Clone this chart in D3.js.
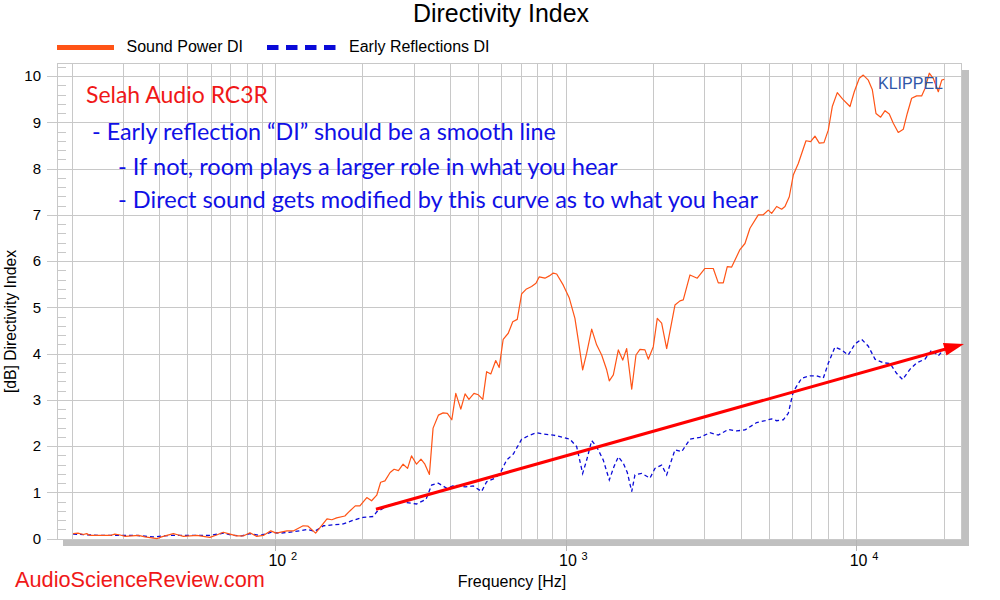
<!DOCTYPE html>
<html><head><meta charset="utf-8">
<script src="https://cdn.jsdelivr.net/npm/d3@7/dist/d3.min.js"></script>
<style>body{margin:0;background:#fff}svg{display:block}</style>
</head><body>
<svg id="chart" width="1000" height="600"></svg>
<script>
// ---------------- DATA ----------------
const spFreq = [20.2,21.0,21.9,22.5,23.1,27.1,28.1,29.3,30.5,33.9,35.7,39.2,40.7,44.7,45.9,48.4,53.8,59.7,63.0,66.4,70.0,73.8,77.8,82.0,86.5,91.2,96.7,101,110,116,125,130,138,151,157,163,174,181,189,196,207,215,224,231,239,249,257,266,276,286,295,307,318,328,340,350,365,379,392,406,419,436,451,465,484,501,519,535,553,575,591,610,635,658,682,706,731,764,791,812,849,879,907,932,982,1030,1077,1106,1145,1182,1230,1279,1331,1385,1414,1460,1519,1573,1623,1689,1747,1803,1876,1926,2004,2068,2141,2228,2379,2476,2541,2680,2839,3018,3223,3354,3489,3601,3729,3982,4143,4310,4604,4790,4983,5119,5326,5541,5689,5886,6076,6322,6719,6973,7215,7466,7749,8017,8276,8610,8985,9521,9851,10250,10580,11010,11360,11700,12140,12570,13000,13420,13960,14530,14990,15520,16150,16800,17250,17850,18420,19170,19700,20100];
const spDI = [0.11,0.12,0.09,0.11,0.07,0.07,0.10,0.08,0.05,0.07,0.04,0.00,0.04,0.11,0.09,0.05,0.07,0.03,0.08,0.14,0.10,0.06,0.06,0.13,0.05,0.07,0.17,0.12,0.17,0.17,0.28,0.27,0.12,0.43,0.41,0.45,0.49,0.60,0.71,0.71,0.89,0.82,0.94,1.22,1.25,1.43,1.50,1.47,1.61,1.52,1.79,1.61,1.72,1.61,1.39,2.39,2.67,2.72,2.71,2.57,3.14,2.80,3.13,3.01,3.14,3.11,3.01,3.61,3.56,3.85,3.70,4.31,4.44,4.69,4.74,5.29,5.39,5.45,5.52,5.66,5.63,5.68,5.74,5.72,5.48,5.20,4.76,4.29,3.65,4.01,4.53,4.19,3.97,3.65,3.41,3.54,4.08,3.86,4.11,3.23,3.97,4.09,4.08,3.88,4.15,4.76,4.66,4.11,5.05,5.14,5.16,5.70,5.63,5.84,5.84,5.53,5.53,5.88,5.87,6.25,6.38,6.71,7.00,7.00,7.10,7.03,7.18,7.12,7.18,7.39,7.86,8.11,8.60,8.58,8.70,8.55,8.56,8.83,9.34,9.64,9.50,9.34,9.66,9.95,10.02,9.91,9.71,9.19,9.11,9.25,9.18,8.98,8.78,8.85,9.19,9.52,9.57,9.57,9.73,10.06,9.95,9.66,9.91,9.93];

const erFreq = [20.2,25.0,29.3,33.4,38.1,43.5,49.7,59.7,66.4,71.9,76.8,82.0,88.8,97.4,104,116,129,137,147,159,172,186,201,218,224,249,276,307,331,346,365,390,416,451,481,514,535,572,595,627,661,706,754,795,838,907,982,1035,1092,1145,1182,1230,1279,1348,1414,1468,1519,1580,1631,1689,1733,1828,1952,2030,2141,2228,2379,2509,2680,2901,3140,3354,3630,3880,4143,4546,4856,5119,5326,5612,5840,6076,6494,6934,7313,7707,8017,8453,8915,9393,9906,10440,11010,11610,12400,13070,13790,14450,15310,16150,17250,18190,19170,19940];
const erDI = [0.10,0.07,0.07,0.07,0.04,0.07,0.07,0.07,0.12,0.07,0.06,0.11,0.07,0.14,0.12,0.15,0.20,0.16,0.28,0.30,0.32,0.40,0.46,0.48,0.58,0.74,0.79,0.75,0.85,1.16,1.20,1.09,1.16,1.12,1.14,1.02,1.23,1.31,1.41,1.70,1.83,2.15,2.24,2.29,2.26,2.24,2.19,2.15,1.99,1.41,1.70,2.12,1.99,1.70,1.27,1.56,1.77,1.63,1.43,1.02,1.38,1.41,1.31,1.52,1.59,1.38,1.92,1.88,2.15,2.19,2.29,2.24,2.36,2.33,2.35,2.51,2.55,2.59,2.55,2.57,2.71,3.18,3.47,3.52,3.52,3.47,3.79,4.14,4.08,3.97,4.21,4.31,4.16,3.88,3.80,3.79,3.57,3.44,3.66,3.80,3.88,4.08,3.95,4.08];

const yTicks = [0,1,2,3,4,5,6,7,8,9,10];
const xDecades = [100, 1000, 10000];
const xDecadeExp = ["2", "3", "4"];
const xGrid = [20,30,40,50,60,70,80,90,100,200,300,400,500,600,700,800,900,1000,2000,3000,4000,5000,6000,7000,8000,9000,10000,20000];
const arrowFreq = [222.6, 23490];
const arrowDI = [0.635, 4.21];

const titleText = "Directivity Index";
const seriesNames = ["Sound Power DI", "Early Reflections DI"];
const xLabel = "Frequency [Hz]";
const yLabel = "[dB] Directivity Index";
const headline = "Selah Audio RC3R";
const notes = ["- Early reflection \u201cDI\u201d should be a smooth line",
               "- If not, room plays a larger role in what you hear",
               "- Direct sound gets modified by this curve as to what you hear"];
const brand = "KLIPPEL";
const watermark = "AudioScienceReview.com";

// ---------------- LAYOUT ----------------
const L = 57, R = 962, T = 63, B = 539;
const ORANGE = "#ff5416", BLUE = "#0a0ad8", GRID = "#c8c8c8", SHADOW = "#c0c0c0";
const sans = "'Liberation Sans', Arial, sans-serif";
const human = "Lato, 'Open Sans', sans-serif";

const svg = d3.select("#chart");
const x = d3.scaleLog().domain([17.78, 23130]).range([L, R]);
const y = d3.scaleLinear().domain([0, 10]).range([538.7, 76]);

function fit(sel, w) {
  const n = sel.node();
  const fs = parseFloat(sel.attr("font-size"));
  const cur = n.getComputedTextLength();
  if (cur > 0) sel.attr("font-size", (fs * w / cur).toFixed(2));
  return sel;
}

// shadow + plot background
svg.append("rect").attr("x", L + 6).attr("y", T + 7).attr("width", R - L + 1).attr("height", B - T)
  .attr("fill", SHADOW);
svg.append("rect").attr("x", L).attr("y", T).attr("width", R - L).attr("height", B - T)
  .attr("fill", "#fff");

// decade ticks extending below
svg.append("g").selectAll("line").data(xDecades).join("line")
  .attr("x1", d => Math.round(x(d)) + 0.5).attr("x2", d => Math.round(x(d)) + 0.5)
  .attr("y1", B).attr("y2", 551).attr("stroke", "#b4b4b4");

// grid
const grid = svg.append("g").attr("stroke", GRID).attr("stroke-width", 1).attr("shape-rendering", "crispEdges");
grid.selectAll(".vx").data(xGrid).join("line")
  .attr("x1", d => Math.round(x(d)) + 0.5).attr("x2", d => Math.round(x(d)) + 0.5)
  .attr("y1", T).attr("y2", B);
grid.selectAll(".hy").data(yTicks).join("line")
  .attr("x1", L).attr("x2", R).attr("y1", d => Math.round(y(d)) + 0.5).attr("y2", d => Math.round(y(d)) + 0.5);
// minor y ticks (inside)
const minor = d3.range(0, 10.3, 0.2).filter(v => Math.abs(v - Math.round(v)) > 0.01);
grid.selectAll(".mn").data(minor).join("line")
  .attr("x1", L).attr("x2", L + 9).attr("y1", d => Math.round(y(d)) + 0.5).attr("y2", d => Math.round(y(d)) + 0.5);
// major y ticks (outside)
grid.selectAll(".mj").data(yTicks).join("line")
  .attr("x1", L - 10).attr("x2", L).attr("y1", d => Math.round(y(d)) + 0.5).attr("y2", d => Math.round(y(d)) + 0.5);
// frame
svg.append("rect").attr("x", L + 0.5).attr("y", T + 0.5).attr("width", R - L - 1).attr("height", B - T)
  .attr("fill", "none").attr("stroke", GRID).attr("shape-rendering", "crispEdges");

// y tick labels
svg.append("g").selectAll("text").data(yTicks).join("text")
  .attr("x", 41).attr("y", d => y(d)).attr("dy", "0.35em").attr("text-anchor", "end")
  .attr("font-family", sans).attr("font-size", 15).attr("fill", "#000").text(d => d);

// x decade labels: base "10" and exponent as separate texts
svg.append("g").selectAll("text").data(xDecades).join("text")
  .attr("x", d => x(d) - 6.5).attr("y", 566)
  .attr("font-family", sans).attr("font-size", 16).attr("fill", "#000").text("10");
svg.append("g").selectAll("text").data(xDecades).join("text")
  .attr("x", d => x(d) + 16).attr("y", 560)
  .attr("font-family", sans).attr("font-size", 11).attr("fill", "#000").text((d, i) => xDecadeExp[i]);

// axis titles
svg.append("text").attr("x", 512).attr("y", 587).attr("text-anchor", "middle")
  .attr("font-family", sans).attr("font-size", 16).attr("fill", "#000").text(xLabel);
const yl = svg.append("text").attr("transform", "translate(16,321.5) rotate(-90)").attr("text-anchor", "middle")
  .attr("font-family", sans).attr("font-size", 15).attr("fill", "#000").text(yLabel);
fit(yl, 143);

// title
const tt = svg.append("text").attr("x", 501).attr("y", 22).attr("text-anchor", "middle")
  .attr("font-family", sans).attr("font-size", 24).attr("fill", "#000").text(titleText);
fit(tt, 176);

// legend
svg.append("line").attr("x1", 57).attr("x2", 114).attr("y1", 47.5).attr("y2", 47.5)
  .attr("stroke", ORANGE).attr("stroke-width", 5);
svg.append("text").attr("x", 126.5).attr("y", 51.5).attr("font-family", sans).attr("font-size", 16)
  .attr("fill", "#000").text(seriesNames[0]);
svg.append("line").attr("x1", 267).attr("x2", 336).attr("y1", 47.5).attr("y2", 47.5)
  .attr("stroke", BLUE).attr("stroke-width", 5).attr("stroke-dasharray", "11.5,7.5");
svg.append("text").attr("x", 349).attr("y", 51.5).attr("font-family", sans).attr("font-size", 16)
  .attr("fill", "#000").text(seriesNames[1]);

// series
const line = d3.line().x(d => x(d[0])).y(d => y(d[1]));
svg.append("path").datum(erFreq.map((f, i) => [f, erDI[i]])).attr("d", line)
  .attr("fill", "none").attr("stroke", BLUE).attr("stroke-width", 1.3).attr("stroke-dasharray", "4,3");
svg.append("path").datum(spFreq.map((f, i) => [f, spDI[i]])).attr("d", line)
  .attr("fill", "none").attr("stroke", ORANGE).attr("stroke-width", 1.2).attr("stroke-linejoin", "round");

// red arrow
const ax0 = x(arrowFreq[0]), ay0 = y(arrowDI[0]), ax1 = x(arrowFreq[1]), ay1 = y(arrowDI[1]);
const ang = Math.atan2(ay1 - ay0, ax1 - ax0), hl = 20, hw = 6.5;
const bx = ax1 - hl * Math.cos(ang), by = ay1 - hl * Math.sin(ang);
svg.append("line").attr("x1", ax0).attr("y1", ay0).attr("x2", bx + 2 * Math.cos(ang)).attr("y2", by + 2 * Math.sin(ang))
  .attr("stroke", "#ff0000").attr("stroke-width", 3);
svg.append("polygon").attr("points", [
  [ax1, ay1], [bx - hw * Math.sin(ang), by + hw * Math.cos(ang)], [bx + hw * Math.sin(ang), by - hw * Math.cos(ang)]
].map(p => p.join(",")).join(" ")).attr("fill", "#ff0000");

// annotations
const hd = svg.append("text").attr("x", 86).attr("y", 103).attr("font-family", human).attr("font-size", 23)
  .attr("fill", "#f01818").text(headline);
fit(hd, 182);
const noteX = [92, 118, 118], noteY = [140, 175, 208], noteW = [464, 500, 640];
notes.forEach((t, i) => {
  const s = svg.append("text").attr("x", noteX[i]).attr("y", noteY[i]).attr("font-family", human)
    .attr("font-size", 23).attr("fill", "#1010e6").text(t);
  fit(s, noteW[i]);
});
const kl = svg.append("text").attr("x", 878).attr("y", 89).attr("font-family", sans).attr("font-size", 16)
  .attr("fill", "#2f56a8").text(brand);
fit(kl, 65);
const wm = svg.append("text").attr("x", 15).attr("y", 587).attr("font-family", sans).attr("font-size", 23)
  .attr("fill", "#f01818").text(watermark);
fit(wm, 250);
</script>
</body></html>
